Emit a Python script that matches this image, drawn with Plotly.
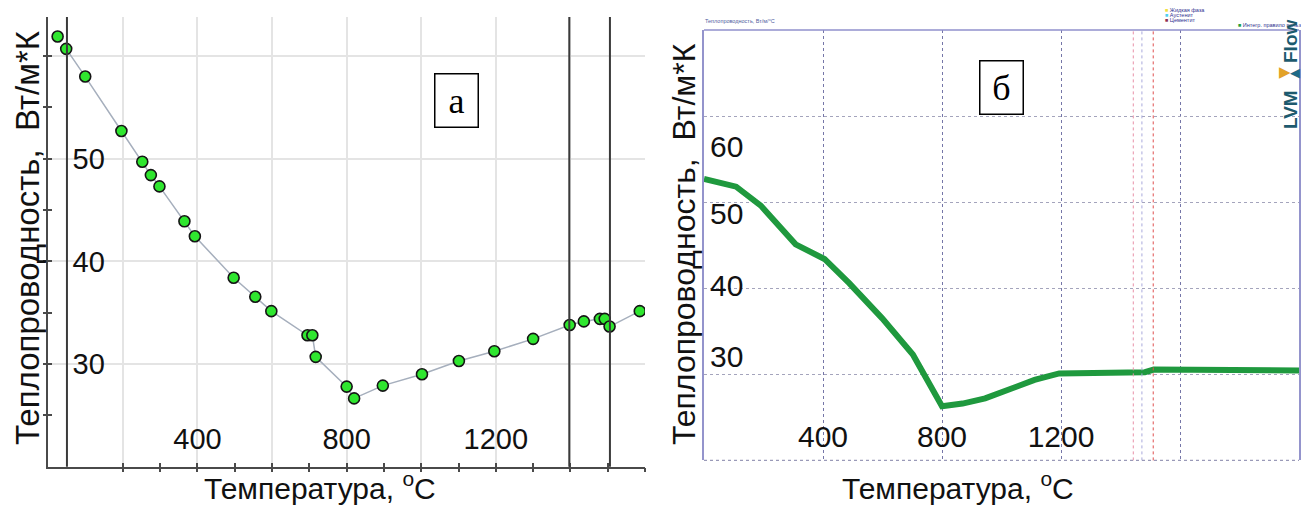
import plotly.graph_objects as go

W, H = 1301, 506

# ---------------- data ----------------
# Panel "а": measured points (temperature, °C ; conductivity, W/m*K)
a_temp = [25, 48, 99, 196, 252, 275, 298, 365, 393, 497, 555, 598, 695, 708, 717,
          800, 820, 897, 1002, 1101, 1196, 1300, 1398, 1436, 1479, 1492, 1505, 1586]
a_k = [61.9, 60.7, 58.0, 52.7, 49.7, 48.4, 47.3, 43.9, 42.45, 38.4, 36.55, 35.15, 32.8, 32.8, 30.7,
       27.8, 26.65, 27.9, 29.0, 30.3, 31.25, 32.45, 33.8, 34.15, 34.4, 34.4, 33.65, 35.15]
a_marker_lines = [50, 1397, 1506]

# Panel "б": LVMFlow curve
b_temp = [0, 108, 191, 308, 405, 488, 599, 702, 800, 869, 945, 1028, 1111, 1194,
          1482, 1512, 1927, 2000]
b_k = [52.7, 51.8, 49.6, 45.1, 43.4, 40.6, 36.5, 32.3, 26.3, 26.6, 27.2, 28.2, 29.35, 30.1,
       30.25, 30.55, 30.6, 30.45]
b_phase_lines = [1443, 1472, 1510]
b_phase_colors = ["#e890a8", "#a9a9dc", "#e05050"]

x_tick_vals_a = [400, 800, 1200]
x_tick_text_a = ["400", "800", "1200"]
x_grid_extra_a = [200, 600, 1000, 1400]
y_tick_vals_a = [30, 40, 50]
y_tick_text_a = ["30", "40", "50"]
y_grid_extra_a = [60]

x_tick_vals_b = [400, 800, 1200]
x_tick_text_b = ["400", "800", "1200"]
x_grid_extra_b = [1600]
y_grid_b = [30, 40, 50, 60]
y_label_text_b = ["60", "50", "40", "30"]

legend_names = ["Жидкая фаза", "Аустенит", "Цементит", "Интегр. правило польз"]
legend_colors = ["#f0e040", "#50d0f0", "#903050", "#20a040"]

y_title = "Теплопроводность,  Вт/м*К"
x_title = "Температура, <sup>o</sup>C"

# ---------------- layout helpers ----------------
def fx(p):
    return p / W

def fy(p):
    return 1 - p / H

SANS = "Liberation Sans, Arial, sans-serif"
SERIF = "Liberation Serif, Times New Roman, serif"

fig = go.Figure()

# panel a traces
fig.add_trace(go.Scatter(x=a_temp[1:], y=a_k[1:], mode="lines",
                         line=dict(color="#a6afbd", width=1.5),
                         xaxis="x", yaxis="y", hoverinfo="skip"))
fig.add_trace(go.Scatter(x=a_temp, y=a_k, mode="markers",
                         marker=dict(size=11, color="#2fe62f",
                                     line=dict(color="#151515", width=1.6)),
                         xaxis="x", yaxis="y"))
# dummy traces to activate tick overlay axes
for xa, ya in [("x3", "y"), ("x4", "y"), ("x", "y3"), ("x", "y4")]:
    fig.add_trace(go.Scatter(x=[None], y=[None], xaxis=xa, yaxis=ya, showlegend=False))

# panel b trace
fig.add_trace(go.Scatter(x=b_temp, y=b_k, mode="lines",
                         line=dict(color="#1f993e", width=6),
                         xaxis="x2", yaxis="y2"))

xa_dom = [fx(48.3), fx(645)]
ya_dom = [fy(466.7), fy(17)]
xb_dom = [fx(704), fx(1299)]
yb_dom = [fy(460.4), fy(30)]

tick_common = dict(showticklabels=False, showgrid=False, showline=False, zeroline=False,
                   ticklen=4, tickwidth=1.5, tickcolor="#4a4a4a", fixedrange=True)
grid_a = dict(showgrid=True, gridcolor="#e4e4e4", gridwidth=2)

fig.update_layout(
    width=W, height=H, autosize=False,
    margin=dict(l=0, r=0, t=0, b=0),
    paper_bgcolor="white", plot_bgcolor="white",
    showlegend=False,
    font=dict(family=SANS, color="black"),
    xaxis=dict(domain=xa_dom, anchor="y", range=[0, 1600],
               tickmode="array", tickvals=x_tick_vals_a, ticktext=x_tick_text_a,
               ticks="", ticklabelposition="inside", ticklabelstandoff=15,
               tickfont=dict(size=29, family=SANS, color="#111"),
               minor=dict(tickvals=x_grid_extra_a, ticks="", **grid_a), **grid_a,
               showline=True, linecolor="#4a4a4a", linewidth=2, zeroline=False, fixedrange=True),
    yaxis=dict(domain=ya_dom, anchor="x", range=[20, 63.8],
               tickmode="array", tickvals=y_tick_vals_a, ticktext=y_tick_text_a,
               ticks="", ticklabelposition="inside", ticklabelstandoff=27,
               tickfont=dict(size=29, family=SANS, color="#111"),
               minor=dict(tickvals=y_grid_extra_a, ticks="", **grid_a), **grid_a,
               showline=True, linecolor="#4a4a4a", linewidth=2, zeroline=False, fixedrange=True),
    xaxis3=dict(overlaying="x", anchor="y", domain=xa_dom, range=[0, 1600],
                tickmode="linear", tick0=0, dtick=100, ticks="outside", **tick_common),
    xaxis4=dict(overlaying="x", anchor="y", domain=xa_dom, range=[0, 1600],
                tickmode="linear", tick0=0, dtick=100, ticks="inside", **tick_common),
    yaxis3=dict(overlaying="y", anchor="x", domain=ya_dom, range=[20, 63.8],
                tickmode="linear", tick0=20, dtick=5, ticks="outside", **tick_common),
    yaxis4=dict(overlaying="y", anchor="x", domain=ya_dom, range=[20, 63.8],
                tickmode="linear", tick0=20, dtick=5, ticks="inside", **tick_common),
    xaxis2=dict(domain=xb_dom, anchor="y2", range=[0, 2000],
                tickmode="array", tickvals=x_tick_vals_b, ticktext=x_tick_text_b,
                ticks="", ticklabelposition="inside", ticklabelstandoff=4,
                tickfont=dict(size=30, family=SANS, color="#111"),
                showgrid=True, gridcolor="#7576a8", gridwidth=1, griddash="dot",
                minor=dict(tickvals=x_grid_extra_b, ticks="", showgrid=True,
                           gridcolor="#7576a8", gridwidth=1, griddash="dot"),
                showline=False, zeroline=False, fixedrange=True),
    yaxis2=dict(domain=yb_dom, anchor="x2", range=[20, 70],
                tickmode="array", tickvals=y_grid_b, showticklabels=False, ticks="",
                showgrid=True, gridcolor="#a4a4bc", gridwidth=1, griddash="dot",
                showline=True, mirror=True, linecolor="#9494cc", linewidth=1.5,
                zeroline=False, fixedrange=True),
)

shapes = []
for t in a_marker_lines:
    shapes.append(dict(type="line", xref="x", yref="y domain", x0=t, x1=t, y0=0, y1=1,
                       line=dict(color="#3a3a3a", width=2)))
for t, c in zip(b_phase_lines, b_phase_colors):
    shapes.append(dict(type="line", xref="x2", yref="y2 domain", x0=t, x1=t, y0=0, y1=1,
                       line=dict(color=c, width=1, dash="dot")))
shapes.append(dict(type="line", xref="x2 domain", yref="y2 domain", x0=0, x1=1, y0=1, y1=1,
                   line=dict(color="#9090cc", width=1.5)))
shapes.append(dict(type="line", xref="x2 domain", yref="y2 domain", x0=0, x1=1, y0=0, y1=0,
                   line=dict(color="#9a9ab8", width=1.2, dash="dot")))
fig.update_layout(shapes=shapes)


def txt(xp, yp, text, size, family=SANS, color="#111", angle=0, xanchor="center", **kw):
    return dict(x=fx(xp), y=fy(yp), xref="paper", yref="paper", text=text, textangle=angle,
                xanchor=xanchor, yanchor="middle", showarrow=False,
                font=dict(size=size, family=family, color=color), **kw)


ann = []
# axis titles
ann.append(txt(28, 238, y_title, 33, angle=-90))
ann.append(txt(320, 486, x_title, 30))
ann.append(txt(684, 244, y_title, 32, angle=-90))
ann.append(txt(958, 486, x_title, 30))
# pasted y labels of panel b
for t, ypx in zip(y_label_text_b, [146.7, 213.3, 285, 356.7]):
    ann.append(txt(727, ypx, t, 30))
# panel labels
box = dict(bordercolor="black", borderwidth=1.5, borderpad=0, bgcolor="white", width=42, height=52)
ann.append(txt(456, 101, "а", 36, family=SERIF, color="black", **box))
ann.append(txt(1002, 87.5, "б", 36, family=SERIF, color="black", **box))
# tiny chart title and legend of LVMFlow
ann.append(txt(703, 21.5, "Теплопроводность, Вт/м/°С", 5.5, color="#5060a0", xanchor="left"))
leg_pos = [(1163, 10), (1163, 14.7), (1163, 19.7), (1236, 25)]
for name, col, (lx, ly) in zip(legend_names, legend_colors, leg_pos):
    ann.append(txt(lx, ly, f"<span style='color:{col}'>■</span> {name}", 5.5,
                   color="#303090", xanchor="left"))
# LVMFlow logo
ann.append(txt(1291, 110, "<b>LVM</b>", 19, color="#1d5a6e", angle=-90))
ann.append(txt(1291, 42, "<b>Flow</b>", 19, color="#1d5a6e", angle=-90))
ann.append(txt(1285, 72, "▶", 15, family="DejaVu Sans", color="#e2a228"))
ann.append(txt(1295, 72, "◀", 13, family="DejaVu Sans", color="#1f6a86"))
fig.update_layout(annotations=ann)

fig.write_html("out.html")
